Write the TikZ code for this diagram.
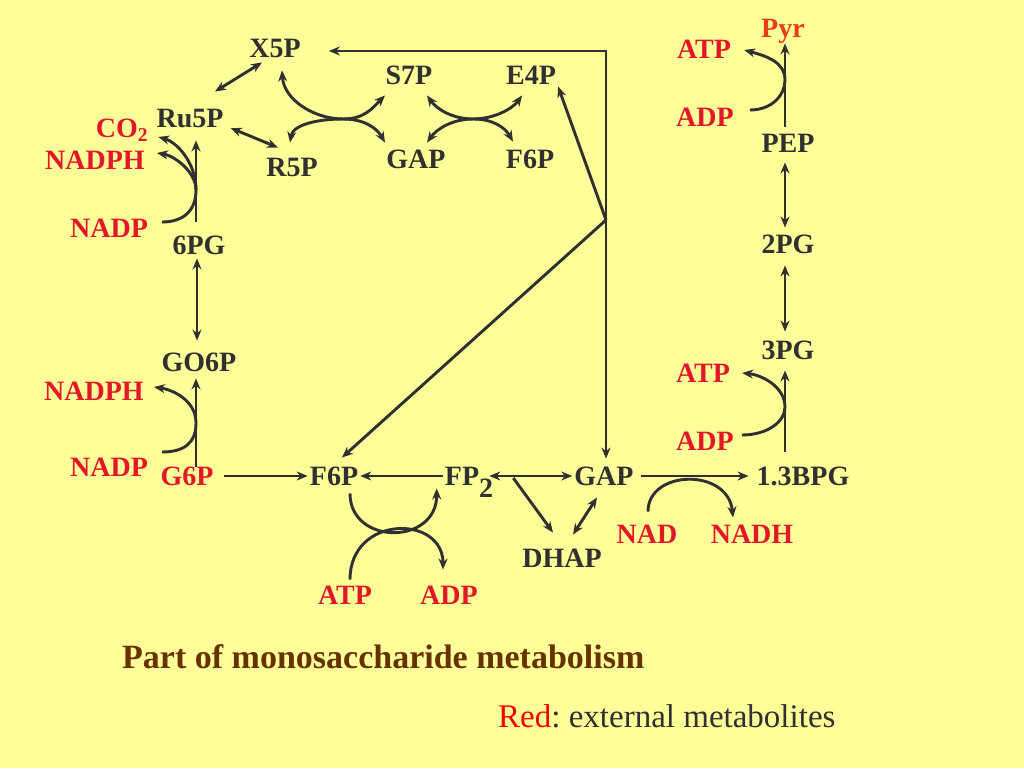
\documentclass[tikz,border=0pt]{standalone}
\usepackage{fontspec}
\setmainfont{Liberation Serif}
\usetikzlibrary{calc,arrows.meta}

\definecolor{slide}{RGB}{255,255,153}
\definecolor{ink}{RGB}{48,48,48}
\definecolor{extred}{RGB}{226,24,42}
\definecolor{pyrred}{RGB}{232,62,22}
\definecolor{titlebrown}{RGB}{102,51,0}
\definecolor{legred}{RGB}{250,0,0}

\begin{document}
\begin{tikzpicture}[x=1pt,y=-1pt,
  >={Stealth[length=11pt,width=9pt]},
  link/.style={draw=ink,line width=2.9pt},
  met/.style={font=\fontsize{28}{30}\selectfont\bfseries,text=ink,
    text height=18.5pt,text depth=0pt,inner sep=2pt},
  extmet/.style={met,text=extred}]

  \fill [slide] (0,0) rectangle (1024,768);
  \useasboundingbox (0,0) rectangle (1024,768);

  % Pentose phosphate part
  \node [met] (X5P) at (275,48) {X5P};
  \node [met] (S7P) at (409,75) {S7P};
  \node [met] (E4P) at (531,75) {E4P};
  \node [met] (Ru5P) at (190,118) {Ru5P};
  \node [met] (R5P) at (292,167) {R5P};
  \node [met] (GAPt) at (416,159) {GAP};
  \node [met] (F6Pt) at (530,159) {F6P};
  \node [extmet] (CO2) at (122,128) {CO\textsubscript{2}};
  \node [extmet] (NADPH1) at (95,160) {NADPH};
  \node [extmet] (NADP1) at (109,228) {NADP};
  \node [met] (PG6) at (199,245) {6PG};
  \node [met] (GO6P) at (199,362) {GO6P};
  \node [extmet] (NADPH2) at (94,391) {NADPH};
  \node [extmet] (NADP2) at (109,467) {NADP};

  % Glycolysis
  \node [extmet] (G6P) at (187,476) {G6P};
  \node [met] (F6P) at (334,476) {F6P};
  \node [met] (FP2) at (469,476) {FP\raisebox{-.45em}{2}};
  \node [met] (GAP) at (604,476) {GAP};
  \node [met] (DHAP) at (562,558) {DHAP};
  \node [met] (BPG) at (803,476) {1.3BPG};
  \node [extmet] (ATP1) at (345,595) {ATP};
  \node [extmet] (ADP1) at (449,595) {ADP};
  \node [extmet] (NAD) at (647,534) {NAD};
  \node [extmet] (NADH) at (752,534) {NADH};
  \node [met] (PG3) at (788,350) {3PG};
  \node [met] (PG2) at (788,244) {2PG};
  \node [met] (PEP) at (788,143) {PEP};
  \node [met,text=pyrred] (Pyr) at (783,28) {Pyr};
  \node [extmet] (ATP2) at (703,373) {ATP};
  \node [extmet] (ADP2) at (705,441) {ADP};
  \node [extmet] (ATP3) at (704,49) {ATP};
  \node [extmet] (ADP3) at (705,117) {ADP};

  \node [anchor=base west,inner sep=0pt,text=titlebrown,
    font=\fontsize{34}{40}\selectfont\bfseries] (title) at (122,668)
    {Part of monosaccharide metabolism};
  \node [anchor=base west,inner sep=0pt,text=ink,
    font=\fontsize{33}{40}\selectfont\frenchspacing] (legend) at (498,727)
    {\textcolor{legred}{Red}: external metabolites};

  \coordinate (corner) at (606,51);
  \coordinate (J) at (606,220);
  \coordinate (tk1) at (343,119);
  \coordinate (tk2) at (473,119);
  \coordinate (c1) at (196,190);
  \coordinate (c2) at (196,423);
  \coordinate (c3) at (785,407);
  \coordinate (c4) at (785,80);

  % Pentose phosphate arrows
  \draw [link,<->] ($(X5P.south)+(-13,3)$) -- ($(Ru5P.north)+(25,-15)$);
  \draw [link,<->] ($(Ru5P.east)+(5,10)$) -- ($(R5P.north)+(-14,-8)$);
  \draw [link,<->] ($(X5P.south)+(7,11)$) .. controls +(2,30) and +(-28,0) .. (tk1)
    .. controls +(22,0) and +(-12,12) .. ($(S7P.south)+(-24,9)$);
  \draw [link,<->] ($(R5P.north)+(-2,-13)$) .. controls +(3,-18) and +(-25,0) .. (tk1)
    .. controls +(22,0) and +(-8,-14) .. ($(GAPt.north)+(-31,-5)$);
  \draw [link,<->] ($(S7P.south)+(18,9)$) .. controls +(10,14) and +(-20,0) .. (tk2)
    .. controls +(20,0) and +(-10,14) .. ($(E4P.south)+(-9,9)$);
  \draw [link,<->] ($(GAPt.north)+(11,-5)$) .. controls +(10,-14) and +(-20,0) .. (tk2)
    .. controls +(20,0) and +(-8,-14) .. ($(F6Pt.north)+(-17,-6)$);

  % Oxidative branch
  \draw [link,->] ($(PG6.north)+(-3,-12)$) -- ($(Ru5P.south)+(6,11)$);
  \draw [link] ($(NADP1.east)+(12,-6)$) .. controls +(22,0) and +(0,20) .. (c1);
  \draw [link,->] (c1) .. controls +(0,-28) and +(18,5) .. ($(CO2.east)+(8,9)$);
  \draw [link,->] (c1) .. controls +(0,-18) and +(18,3) .. ($(NADPH1.east)+(10,-7)$);
  \draw [link,<->] ($(PG6.south)+(-2,2)$) -- ($(GO6P.north)+(-2,-10)$);
  \draw [link,->] ($(G6P.north)+(9,2)$) -- ($(GO6P.south)+(-3,5)$);
  \draw [link] ($(NADP2.east)+(12,-15)$) .. controls +(22,0) and +(0,20) .. (c2);
  \draw [link,->] (c2) .. controls +(0,-22) and +(20,3) .. ($(NADPH2.east)+(8,-4)$);

  % Upper glycolysis
  \draw [link,->,shorten <=8pt] (G6P) -- (F6P);
  \draw [link,->] (FP2) -- (F6P);
  \draw [link,<->] ($(FP2.east)+(-6,0)$) -- (GAP);
  \draw [link,->] ($(FP2.east)+(18,2)$) -- ($(DHAP.north)+(-9,-14)$);
  \draw [link,<->] ($(GAP.south)+(-7,10)$) -- ($(DHAP.north)+(11,-12)$);
  \draw [link,->] ($(F6P.south)+(16,6)$) .. controls +(0,52) and +(0,57) .. ($(FP2.south west)+(-6,1)$);
  \draw [link,->] ($(ATP1.north)+(5,-4)$) .. controls +(0,-65) and +(0,-55) .. ($(ADP1.north)+(-6,-14)$);

  % Lower glycolysis
  \draw [link,->] ($(GAP.east)+(5,0)$) -- ($(BPG.west)+(-6,0)$);
  \draw [link,->] ($(NAD.north)+(1,-11)$) .. controls +(0,-42) and +(-5,-50) .. ($(NADH.north)+(-19,-5)$);
  \draw [link,->] ($(BPG.north)+(-18,-13)$) -- ($(PG3.south)+(-3,9)$);
  \draw [link] ($(ADP2.east)+(6,-6)$) .. controls +(25,0) and +(0,15) .. (c3);
  \draw [link,->] (c3) .. controls +(0,-20) and +(20,2) .. ($(ATP2.east)+(10,0)$);
  \draw [link,<->] ($(PG2.south)+(-3,10)$) -- ($(PG3.north)+(-3,-7)$);
  \draw [link,<->] ($(PEP.south)+(-3,8)$) -- ($(PG2.north)+(-3,-5)$);
  \draw [link,->] ($(PEP.north)+(-3,-5)$) -- ($(Pyr.south)+(2,4)$);
  \draw [link] ($(ADP3.east)+(14,-7)$) .. controls +(22,0) and +(0,15) .. (c4);
  \draw [link,->] (c4) .. controls +(0,-18) and +(22,6) .. ($(ATP3.east)+(11,1)$);

  % Back to the pentose phosphates
  \draw [link,<->] ($(X5P.east)+(26,3)$) -- (corner) -- ($(GAP.north)+(2,-6)$);
  \draw [link,->] (J) -- (E4P.south east);
  \draw [link,->] (J) -- ($(F6P.north)+(8,-7)$);

\end{tikzpicture}
\end{document}
